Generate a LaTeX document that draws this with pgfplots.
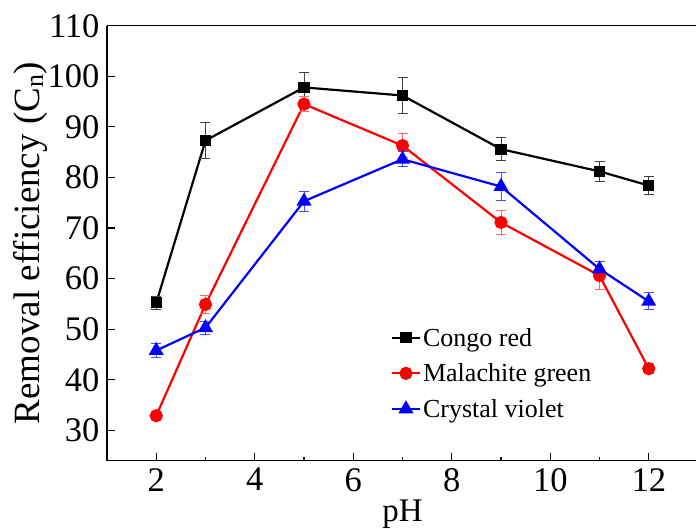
\documentclass[border=0pt]{standalone}
\usepackage{fontspec}
\setmainfont{Liberation Serif}
\usepackage{pgfplots}
\usepackage{pgfplotstable}
\pgfplotsset{compat=1.18}

% pH, removal efficiency, error
\pgfplotstableread{
x y e
2 55.2 1.3
3 87.3 3.5
5 97.8 2.9
7 96.2 3.5
9 85.6 2.2
11 81.2 2.0
12 78.4 1.8
}\congo
\pgfplotstableread{
x y e
2 32.9 0.6
3 54.9 1.8
5 94.5 1.5
7 86.3 2.3
9 71.1 2.3
11 60.6 2.7
12 42.2 1.0
}\malachite
\pgfplotstableread{
x y e
2 45.8 1.4
3 50.3 1.3
5 75.3 2.0
7 83.6 1.5
9 78.2 2.8
11 61.9 1.5
12 55.5 1.7
}\crystal

\newcommand{\tl}{\pgfmathtruncatemacro\tk{\tick}\hbox{\fontsize{30}{32}\selectfont\tk}}

\begin{document}
\begin{tikzpicture}
\begin{axis}[
  at={(0,0)}, anchor=south west,
  scale only axis, width=591pt, height=435pt,
  xmin=1, xmax=13, ymin=24, ymax=110,
  axis lines*=left,
  axis line style={line width=1.2pt},
  tick align=inside, tick style={line width=1.2pt, black},
  major tick length=8pt, minor tick length=4pt,
  xtick={2,4,...,12}, minor x tick num=1,
  ytick={30,40,...,110},
  xticklabel={\tl},
  yticklabel={\tl},
  xticklabel style={scale=1.15, yshift=-3pt},
  yticklabel style={scale=1.15, xshift=-3pt},
  xlabel={pH}, ylabel={Removal efficiency (C\textsubscript{n})},
  xlabel style={font=\fontsize{33}{34}\selectfont, yshift=-1pt},
  ylabel style={font=\fontsize{37}{38}\selectfont, yshift=-7pt},
  legend style={at={(0.48,0.31)}, anchor=north west, draw=none, fill=none,
    font=\fontsize{26}{30}\selectfont, row sep=12pt, inner sep=0pt},
  legend cell align=left,
  legend image code/.code={%
    \draw[mark repeat=2,mark phase=2,#1] plot coordinates {(0pt,0pt) (14pt,0pt) (28pt,0pt)};},
  every axis plot/.append style={line width=2.2pt},
  error bars/error bar style={line width=1pt},
  error bars/error mark options={rotate=90, mark size=5pt, line width=1pt},
]
\addplot[black, mark=square*, mark size=4.5pt,
  error bars/.cd, y dir=both, y explicit, error bar style={black!75}]
  table[x=x, y=y, y error=e] {\congo};
\addlegendentry{Congo red}
\addplot[red, mark=*, mark size=5.5pt,
  error bars/.cd, y dir=both, y explicit, error bar style={red!60}]
  table[x=x, y=y, y error=e] {\malachite};
\addlegendentry{Malachite green}
\addplot[blue, mark=triangle*, mark size=6.5pt,
  error bars/.cd, y dir=both, y explicit, error bar style={blue!70}]
  table[x=x, y=y, y error=e] {\crystal};
\addlegendentry{Crystal violet}
\draw[line width=1.2pt] (rel axis cs:0,1) -- (rel axis cs:1,1);
\end{axis}
\pgfresetboundingbox
\useasboundingbox (-107pt,-67.3pt) rectangle (589pt,460.7pt);
\end{tikzpicture}
\end{document}
